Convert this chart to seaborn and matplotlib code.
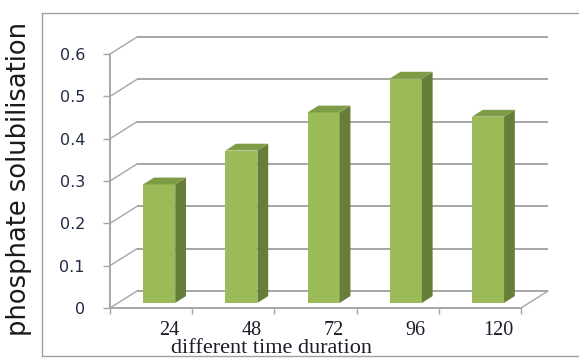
import numpy as np
import pandas as pd
import matplotlib
matplotlib.use("Agg")
import matplotlib.pyplot as plt
from matplotlib.patches import Polygon
from matplotlib.lines import Line2D
import seaborn as sns

# Phosphate solubilisation over incubation time
hours = ["24", "48", "72", "96", "120"]
solubilisation = [0.28, 0.36, 0.45, 0.53, 0.44]
y_ticks = [0, 0.1, 0.2, 0.3, 0.4, 0.5, 0.6]
y_tick_labels = ["0", "0.1", "0.2", "0.3", "0.4", "0.5", "0.6"]

df = pd.DataFrame({"hours": hours, "value": solubilisation})

sns.set_theme(style="white")
plt.rcParams["font.family"] = ["DejaVu Sans"]

FRONT = "#9BBB59"
SIDE = "#677E3A"
TOP = "#7E9C45"
GRID = "#A6A6A6"

fig = plt.figure(figsize=(5.79, 3.58), dpi=100)
ax = fig.add_axes([0.18998, 0.13966, 0.7565, 0.7685])

# depth of the 3-D box (in data units) and the slab occupied by the bars
wall_dx, wall_dy = 0.3285, 0.0402
front_frac, back_frac = 0.30, 0.70

sns.barplot(data=df, x="hours", y="value", color=FRONT, saturation=1,
            width=0.39, linewidth=0, ax=ax, zorder=3)

ax.set_xlim(-0.5, 4.5 + wall_dx)
ax.set_ylim(0, 0.65)

# back wall gridlines and left wall diagonals
ax.hlines([t + wall_dy for t in y_ticks], -0.5 + wall_dx, 4.5 + wall_dx,
          color=GRID, lw=1.4, zorder=1)
for t in y_ticks:
    ax.plot([-0.5, -0.5 + wall_dx], [t, t + wall_dy], color=GRID, lw=1.0,
            zorder=1, clip_on=False)
# floor right edge
ax.plot([4.5, 4.5 + wall_dx], [0, wall_dy], color=GRID, lw=1.0, zorder=1,
        clip_on=False)

# turn the flat bars into 3-D columns
depth_dx = (back_frac - front_frac) * wall_dx
depth_dy = (back_frac - front_frac) * wall_dy
for p in ax.patches[:len(hours)]:
    p.set_x(p.get_x() + front_frac * wall_dx)
    p.set_y(front_frac * wall_dy)
    x0, x1 = p.get_x(), p.get_x() + p.get_width()
    y0, y1 = p.get_y(), p.get_y() + p.get_height()
    side = Polygon([(x1, y0), (x1 + depth_dx, y0 + depth_dy),
                    (x1 + depth_dx, y1 + depth_dy), (x1, y1)],
                   closed=True, facecolor=SIDE, edgecolor="none", zorder=3)
    top = Polygon([(x0, y1), (x1, y1), (x1 + depth_dx, y1 + depth_dy),
                   (x0 + depth_dx, y1 + depth_dy)],
                  closed=True, facecolor=TOP, edgecolor="none", zorder=3)
    ax.add_patch(side)
    ax.add_patch(top)

# axes lines
for name in ["top", "right"]:
    ax.spines[name].set_visible(False)
ax.spines["left"].set_bounds(0, 0.6)
ax.spines["bottom"].set_bounds(-0.5, 4.5)
for name in ["left", "bottom"]:
    ax.spines[name].set_color(GRID)
    ax.spines[name].set_linewidth(1.4)

ax.set_yticks(y_ticks, labels=y_tick_labels)
ax.tick_params(axis="y", length=5, width=1, color=GRID, pad=13,
               labelsize=11.5, labelcolor="#1f2a44", left=True)

ax.set_xticks(np.arange(len(hours)) + 0.22, labels=hours)
ax.set_xticks(np.arange(len(hours) + 1) - 0.5, minor=True)
ax.tick_params(axis="x", which="major", length=0, pad=9, labelsize=14.5,
               labelcolor="#1c1c2c")
ax.tick_params(axis="x", which="minor", length=4, width=1, color=GRID,
               bottom=True)
for lbl in ax.get_xticklabels():
    lbl.set_family("Liberation Serif")

ax.set_xlabel("different time duration", fontsize=16, color="#1c1c2c",
              family="Liberation Serif", va="baseline")
ax.xaxis.set_label_coords(0.3687, -0.165)
ax.set_ylabel("phosphate solubilisation", fontsize=18.5, color="#1a1a1a")
ax.yaxis.set_label_coords(-0.178, 0.469)

# chart area border
for xs, ys in [([0.0725, 0.0725], [0.0056, 0.9637]),
               ([0.0725, 1.0], [0.9637, 0.9637]),
               ([0.0725, 1.0], [0.0056, 0.0056])]:
    fig.add_artist(Line2D(xs, ys, color="#A0A0A0", lw=1.0))

fig.savefig("out.png", dpi=100)
